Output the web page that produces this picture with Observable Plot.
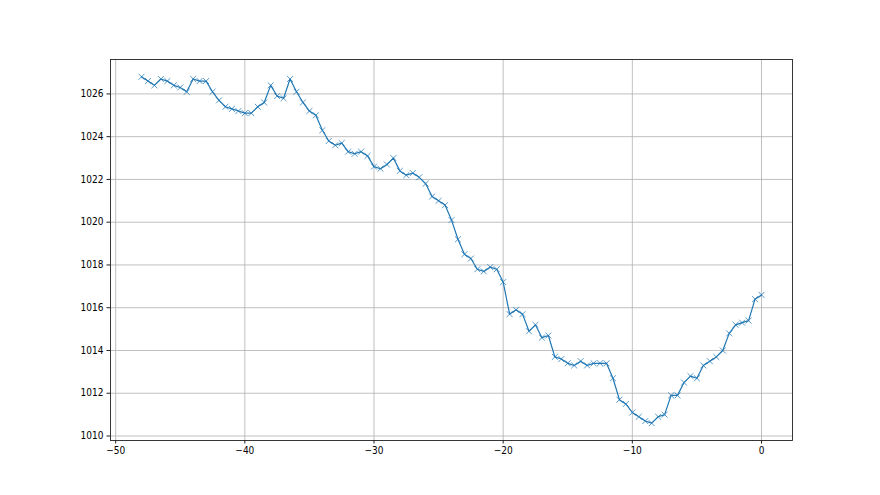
<!DOCTYPE html>
<html>
<head>
<meta charset="utf-8">
<script src="https://cdn.jsdelivr.net/npm/d3@7"></script>
<script src="https://cdn.jsdelivr.net/npm/@observablehq/plot@0.6"></script>
<style>
  html, body { margin: 0; padding: 0; background: #fff; }
</style>
</head>
<body>
<div id="chart"></div>
<script>
const hours = [
  -48, -47.5, -47, -46.5, -46, -45.5, -45, -44.5, -44, -43.5,
  -43, -42.5, -42, -41.5, -41, -40.5, -40, -39.5, -39, -38.5,
  -38, -37.5, -37, -36.5, -36, -35.5, -35, -34.5, -34, -33.5,
  -33, -32.5, -32, -31.5, -31, -30.5, -30, -29.5, -29, -28.5,
  -28, -27.5, -27, -26.5, -26, -25.5, -25, -24.5, -24, -23.5,
  -23, -22.5, -22, -21.5, -21, -20.5, -20, -19.5, -19, -18.5,
  -18, -17.5, -17, -16.5, -16, -15.5, -15, -14.5, -14, -13.5,
  -13, -12.5, -12, -11.5, -11, -10.5, -10, -9.5, -9, -8.5,
  -8, -7.5, -7, -6.5, -6, -5.5, -5, -4.5, -4, -3.5,
  -3, -2.5, -2, -1.5, -1, -0.5, 0
];
const pressure = [
  1026.8, 1026.6, 1026.4, 1026.7, 1026.6, 1026.4, 1026.3, 1026.1, 1026.7, 1026.6,
  1026.6, 1026.1, 1025.7, 1025.4, 1025.3, 1025.2, 1025.1, 1025.1, 1025.4, 1025.6,
  1026.4, 1025.9, 1025.8, 1026.7, 1026.1, 1025.6, 1025.2, 1025.0, 1024.3, 1023.8,
  1023.6, 1023.7, 1023.3, 1023.2, 1023.3, 1023.1, 1022.6, 1022.5, 1022.7, 1023.0,
  1022.4, 1022.2, 1022.3, 1022.1, 1021.8, 1021.2, 1021.0, 1020.8, 1020.1, 1019.2,
  1018.5, 1018.3, 1017.8, 1017.7, 1017.9, 1017.8, 1017.2, 1015.7, 1015.9, 1015.7,
  1014.9, 1015.2, 1014.6, 1014.7, 1013.7, 1013.6, 1013.4, 1013.3, 1013.5, 1013.3,
  1013.4, 1013.4, 1013.4, 1012.7, 1011.7, 1011.5, 1011.1, 1010.9, 1010.7, 1010.6,
  1010.9, 1011.0, 1011.9, 1011.9, 1012.5, 1012.8, 1012.7, 1013.3, 1013.5, 1013.7,
  1014.0, 1014.8, 1015.2, 1015.3, 1015.4, 1016.4, 1016.6
];
const xTicks = [-50, -40, -30, -20, -10, 0];
const yTicks = [1010, 1012, 1014, 1016, 1018, 1020, 1022, 1024, 1026];

const data = hours.map((h, i) => ({hour: h, value: pressure[i]}));

const color = "#1f77b4";
const gridColor = "#b0b0b0";

const chart = Plot.plot({
  width: 880,
  height: 495,
  marginLeft: 110,
  marginRight: 88,
  marginTop: 59,
  marginBottom: 55,
  style: {
    fontFamily: "'Liberation Sans Narrow', 'DejaVu Sans Condensed', sans-serif",
    fontSize: "10px",
    color: "black",
    background: "white"
  },
  x: {domain: [-50.4, 2.4]},
  y: {domain: [1009.79, 1027.61]},
  marks: [
    Plot.gridX(xTicks, {stroke: gridColor, strokeOpacity: 1, strokeWidth: 0.8}),
    Plot.gridY(yTicks, {stroke: gridColor, strokeOpacity: 1, strokeWidth: 0.8}),
    Plot.line(data, {x: "hour", y: "value", stroke: color, strokeWidth: 1.2}),
    Plot.dot(data, {x: "hour", y: "value", symbol: "times", r: 2.8, stroke: color, strokeWidth: 1, strokeOpacity: 0.75}),
    Plot.frame({stroke: "#222", strokeWidth: 0.9}),
    Plot.axisX(xTicks, {tickSize: 3.5, tickPadding: 3, label: null, stroke: "#222", fill: "#000", fontSize: 10}),
    Plot.axisY(yTicks, {tickSize: 3.5, tickPadding: 3.5, label: null, stroke: "#222", fill: "#000", fontSize: 10, tickFormat: d => String(d)})
  ]
});
document.getElementById("chart").appendChild(chart);
</script>
</body>
</html>
